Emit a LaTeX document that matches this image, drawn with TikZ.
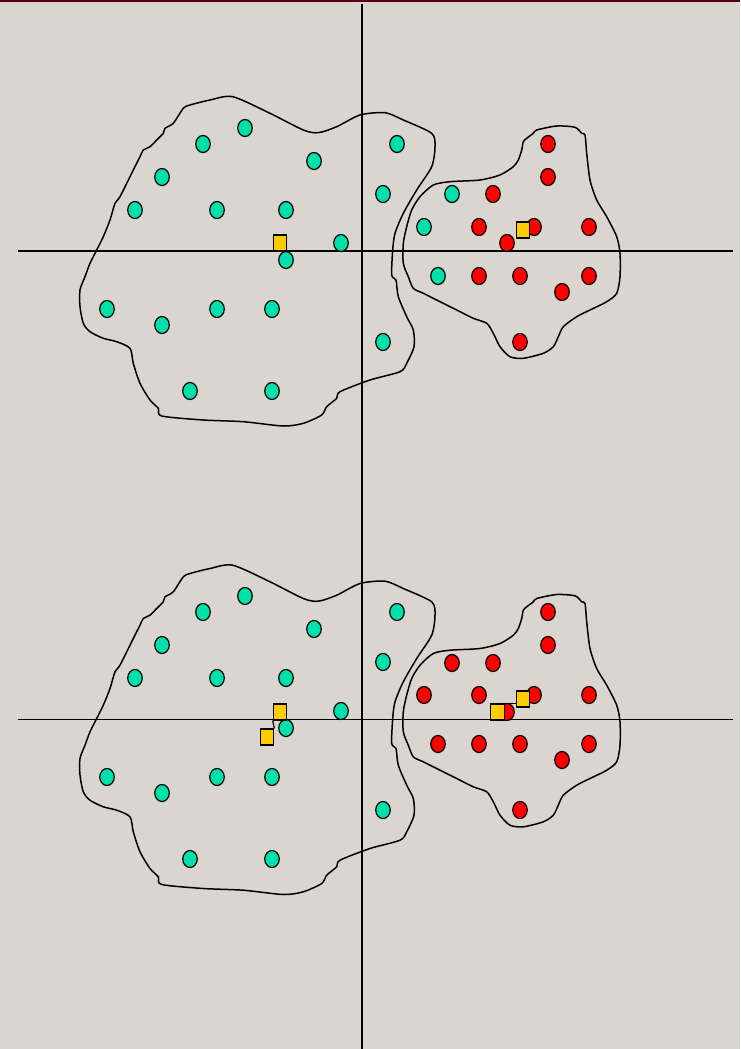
\documentclass[tikz,border=0pt]{standalone}
\usetikzlibrary{shapes.geometric}
\definecolor{bgc}{RGB}{219,213,207}
\definecolor{barc}{RGB}{90,0,20}
\definecolor{grn}{RGB}{0,224,170}
\definecolor{rd}{RGB}{255,0,0}
\definecolor{yel}{RGB}{255,204,0}
\tikzset{
  gpt/.style={ellipse,draw=black,line width=1.2pt,fill=grn,inner sep=0pt,minimum width=14.5pt,minimum height=17pt},
  rpt/.style={gpt,fill=rd},
  cent/.style={rectangle,draw=black,line width=1.2pt,fill=yel,inner sep=0pt,minimum width=13.5pt,minimum height=16pt},
  blob/.style={draw=black,line width=1.5pt},
  axis/.style={draw=black,line width=2pt}
}
\newcommand\leftblobpath{plot[smooth cycle,tension=0.45] coordinates{(232.7,96.7) (270,113.3) (303.3,130) (318.3,132.7) (336.7,126.7) (360,115) (385,112.7) (403.3,120) (431.7,133.3) (435,146.7) (431.7,166.7) (416.7,190) (403.3,213.3) (395,233.3) (392.7,250) (391.7,275) (396,280) (398.3,296.7) (406.7,316.7) (413.3,330) (414,346.7) (406.7,363.3) (400,371.7) (370,380) (340,391.7) (336.7,398.3) (326.7,406.7) (321.7,415) (303.3,423.3) (283.3,426) (243.3,421.7) (203.3,420) (161.7,416) (158.3,408.3) (150,400) (140,383.3) (133.3,363.3) (130,348.3) (116.7,341.7) (103.3,338.3) (90,331.7) (83.3,323.3) (80,306.7) (80,290) (85,276.7) (90,263.3) (96.7,250) (103.3,236.7) (110,220) (115,203.3) (120,196.7) (133.3,170) (140,156.7) (143.3,150) (150,146.7) (156.7,140) (163.3,133.3) (165,128.3) (173.3,123.3) (183.3,108.3) (190,105) (210,100)}}
\newcommand\rightblobpath{plot[smooth cycle,tension=0.45] coordinates{(536.7,130) (556.7,126) (575,127.3) (581.7,133.3) (585,135) (586.7,153.3) (590,180) (596.7,200) (606.7,216.7) (616.7,236.7) (620,253.3) (620,276.7) (616.7,293.3) (606.7,301.7) (590,310) (576.7,316.7) (563.3,326.7) (558.3,336.7) (553.3,346.7) (543.3,353.3) (523.3,358.3) (510,356.7) (500,346.7) (493.3,333.3) (486.7,323.3) (473.3,318.3) (456.7,310) (440,301.7) (423.3,293.3) (413.3,288.3) (408.3,276.7) (403.3,263.3) (403.3,243.3) (406.7,226.7) (411.7,210) (420,196.7) (433.3,185) (450,181.7) (480,180) (500,175) (513.3,166.7) (518.3,160) (521.7,150) (523.3,141.7) (526.7,138.3) (533.3,133.3)}}
\begin{document}
\begin{tikzpicture}[x=1pt,y=-1pt]
\useasboundingbox (0,0) rectangle (740,1049);
\fill[bgc] (0,0) rectangle (740,1049);
\fill[barc] (0,0) rectangle (740,2.5);
% blobs
\path[blob] \leftblobpath;
\path[blob] \rightblobpath;
\begin{scope}[yshift=-468.5pt]
\path[blob] \leftblobpath;
\path[blob] \rightblobpath;
\end{scope}
% axes
\coordinate (vt) at (362,4);
\coordinate (vb) at (362,1049);
\coordinate (h1l) at (18,251);
\coordinate (h1r) at (733,251);
\coordinate (h2l) at (18,719.5);
\coordinate (h2r) at (733,719.5);
\draw[axis] (vt) -- (vb);
\draw[axis] (h1l) -- (h1r);
\draw[axis,line width=1.7pt] (h2l) -- (h2r);
% top panel points
\foreach \x/\y [count=\i] in {245/128,203/144,314/161,162/177,135/210,217/210,286/210,341/243,286/260,107/309,162/325,217/309,272/309,383/342,190/391,272/391,397/144,383/194,452/194,424/227,438/276}
  \node[gpt] (tg\i) at (\x,\y) {};
\foreach \x/\y [count=\i] in {548/144,548/177,493/194,479/227,534/227,589/227,507/243,479/276,520/276,589/276,562/292,520/342}
  \node[rpt] (tr\i) at (\x,\y) {};
\node[cent] (tcl) at (280,243) {};
\node[cent] (tcr) at (523,230) {};
% bottom panel points
\foreach \x/\y [count=\i] in {245/596,203/612,314/629,162/645,135/678,217/678,286/678,341/711,286/728,107/777,162/793,217/777,272/777,383/810,190/859,272/859,397/612,383/662}
  \node[gpt] (bg\i) at (\x,\y) {};
\foreach \x/\y [count=\i] in {548/612,548/645,452/663,493/663,424/695,479/695,534/695,589/695,507/712,438/744,479/744,520/744,589/744,562/760,520/810}
  \node[rpt] (br\i) at (\x,\y) {};
\node[cent] (bcl1) at (280,712) {};
\node[cent] (bcl2) at (267,737) {};
\draw[line width=1.2pt] (bcl1.south west) -- (bcl2.north east);
\node[cent] (bcr2) at (497.5,712) {};
\node[cent] (bcr1) at (523,699) {};
\draw[line width=1.2pt] (bcr2.north east) -- (bcr2.north east -| bcr1.west);
\end{tikzpicture}
\end{document}
